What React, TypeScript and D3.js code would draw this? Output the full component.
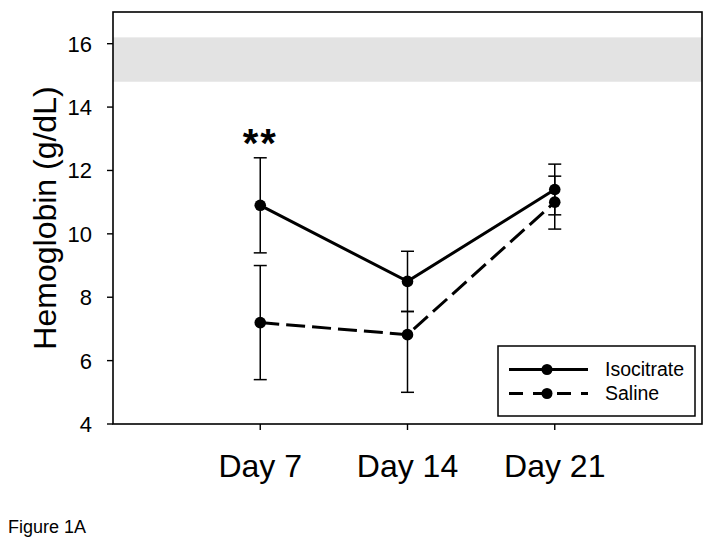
import React from "react";
import * as d3 from "d3";

const days = ["Day 7", "Day 14", "Day 21"];
const yTicks = [4, 6, 8, 10, 12, 14, 16];
const normalBand = [14.8, 16.2];

const isoMean = [10.9, 8.5, 11.4];
const isoHigh = [12.4, 9.45, 12.2];
const isoLow = [9.4, 7.55, 10.6];

const salMean = [7.2, 6.82, 11.0];
const salHigh = [9.0, 7.55, 11.82];
const salLow = [5.4, 5.0, 10.15];

const seriesNames = ["Isocitrate", "Saline"];
const significance = [{ day: "Day 7", label: "**" }];

const W = 714;
const H = 547;
const FONT = "'Liberation Sans', Arial, sans-serif";

export default function App() {
  const left = 113, right = 702, top = 12, bottom = 424;
  const x = d3.scaleLinear().domain([0, 4]).range([left, right]);
  const xi = (d: string) => x(days.indexOf(d) + 1);
  const y = d3.scaleLinear().domain([4, 17]).range([bottom, top]);
  const line = d3
    .line<number>()
    .x((_, i) => x(i + 1))
    .y((v) => y(v));

  const series = [
    { name: seriesNames[0], mean: isoMean, hi: isoHigh, lo: isoLow, dash: undefined as string | undefined },
    { name: seriesNames[1], mean: salMean, hi: salHigh, lo: salLow, dash: "19,7" },
  ];

  return (
    <svg
      width={W}
      height={H}
      style={{ position: "absolute", left: 0, top: 0, background: "#fff" }}
      fontFamily={FONT}
    >
      <rect x={0} y={0} width={W} height={H} fill="#fff" />
      {/* normal range band */}
      <rect
        x={left}
        y={y(normalBand[1])}
        width={right - left}
        height={y(normalBand[0]) - y(normalBand[1])}
        fill="#e3e3e3"
      />
      {/* frame */}
      <rect x={left} y={top} width={right - left} height={bottom - top} fill="none" stroke="#000" strokeWidth={1.6} />

      {/* y ticks */}
      {yTicks.map((t) => (
        <g key={t}>
          <line x1={left - 6} x2={left} y1={y(t)} y2={y(t)} stroke="#000" strokeWidth={1.4} />
          <text x={92} y={y(t)} dy="0.36em" textAnchor="end" fontSize={22} fill="#000">
            {t}
          </text>
        </g>
      ))}
      {/* x ticks */}
      {days.map((d) => (
        <g key={d}>
          <line x1={xi(d)} x2={xi(d)} y1={bottom} y2={bottom + 6} stroke="#000" strokeWidth={1.4} />
          <text x={xi(d)} y={477} textAnchor="middle" fontSize={32} fill="#000">
            {d}
          </text>
        </g>
      ))}

      <text
        transform={`translate(56,${(top + bottom) / 2}) rotate(-90)`}
        textAnchor="middle"
        fontSize={32}
        fill="#000"
      >
        Hemoglobin (g/dL)
      </text>

      {/* error bars */}
      {series.map((s) =>
        s.mean.map((m, i) => (
          <g key={s.name + i} stroke="#000" strokeWidth={1.5}>
            <line x1={x(i + 1)} x2={x(i + 1)} y1={y(s.hi[i])} y2={y(s.lo[i])} />
            <line x1={x(i + 1) - 6.5} x2={x(i + 1) + 6.5} y1={y(s.hi[i])} y2={y(s.hi[i])} />
            <line x1={x(i + 1) - 6.5} x2={x(i + 1) + 6.5} y1={y(s.lo[i])} y2={y(s.lo[i])} />
          </g>
        ))
      )}

      {/* lines */}
      {series.map((s) => (
        <path
          key={s.name}
          d={line(s.mean) || ""}
          fill="none"
          stroke="#000"
          strokeWidth={3}
          strokeDasharray={s.dash}
        />
      ))}
      {/* markers */}
      {series.map((s) =>
        s.mean.map((m, i) => <circle key={s.name + "c" + i} cx={x(i + 1)} cy={y(m)} r={5.8} fill="#000" />)
      )}

      {significance.map((sg) => (
        <text
          key={sg.day}
          x={xi(sg.day)}
          y={157}
          textAnchor="middle"
          fontSize={40}
          fontWeight="bold"
          letterSpacing={2}
          fill="#000"
        >
          {sg.label}
        </text>
      ))}

      {/* legend */}
      <g>
        <rect x={498} y={346} width={197} height={70} fill="#fff" stroke="#000" strokeWidth={1.5} />
        {series.map((s, i) => {
          const ly = 369.5 + i * 24;
          return (
            <g key={s.name}>
              <line
                x1={509}
                x2={588}
                y1={ly}
                y2={ly}
                stroke="#000"
                strokeWidth={3}
                strokeDasharray={s.dash ? "14,10" : undefined}
              />
              <circle cx={547} cy={ly} r={5.5} fill="#000" />
              <text x={605} y={ly + 6.8} fontSize={19.5} fill="#000">
                {s.name}
              </text>
            </g>
          );
        })}
      </g>

      <text x={8} y={533} fontSize={18} fill="#000">
        Figure 1A
      </text>
    </svg>
  );
}
